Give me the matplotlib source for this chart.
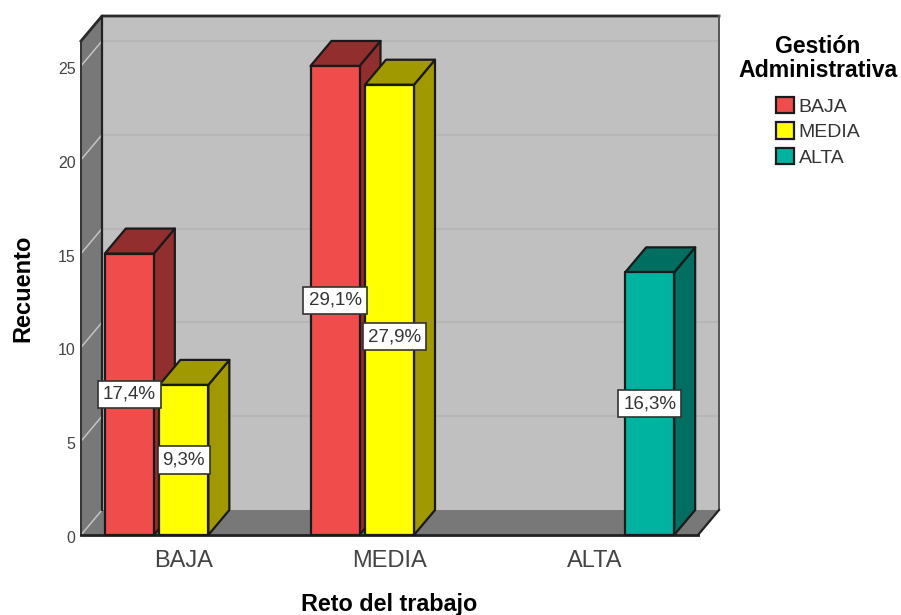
import matplotlib
matplotlib.use("Agg")
import matplotlib.pyplot as plt
from matplotlib.patches import Polygon, Patch
from matplotlib.transforms import ScaledTranslation

plt.rcParams['font.family'] = ['Liberation Sans', 'DejaVu Sans']

categories = ["BAJA", "MEDIA", "ALTA"]
hues = ["BAJA", "MEDIA", "ALTA"]

# Recuento por categoria de Reto del trabajo, una lista por nivel de gestion
counts_baja = [15, 25, 0]
counts_media = [8, 24, 0]
counts_alta = [0, 0, 14]

pct_baja = ["17,4%", "29,1%", ""]
pct_media = ["9,3%", "27,9%", ""]
pct_alta = ["", "", "16,3%"]

y_ticks = [0, 5, 10, 15, 20, 25]

front_colors = ["#f04c4c", "#ffff00", "#00b3a0"]
side_colors = ["#922e2e", "#a09a00", "#006e60"]
wall_color = "#c0c0c0"
dark_wall = "#787878"
edge = "#1a1a1a"

W, H = 901, 615
fig = plt.figure(figsize=(W / 100, H / 100), dpi=100)
ax = fig.add_axes([81 / W, (H - 535) / H, 617 / W, 494 / H])
ax.set_xlim(-0.5, 2.5)
ax.set_ylim(0, 26.33)

# desplazamiento de la profundidad en unidades de datos
dx = 21 / (617 / 3)
dy = 25 / (494 / 26.33)
x0, x1 = ax.get_xlim()
y0, y1 = ax.get_ylim()


def face(points, color, z, lw=1.6, ec=edge):
    ax.add_patch(Polygon(points, closed=True, fc=color, ec=ec, lw=lw, zorder=z,
                         clip_on=False, joinstyle='round'))


# paredes del fondo, izquierda y suelo
face([(x0 + dx, y0 + dy), (x1 + dx, y0 + dy), (x1 + dx, y1 + dy), (x0 + dx, y1 + dy)], wall_color, 1, lw=0)
face([(x0, y0), (x0 + dx, y0 + dy), (x0 + dx, y1 + dy), (x0, y1)], dark_wall, 1, lw=0)
face([(x0, y0), (x0 + dx, y0 + dy), (x1 + dx, y0 + dy), (x1, y0)], dark_wall, 1, lw=0)

for t in y_ticks[1:]:
    ax.plot([x0 + dx, x1 + dx], [t + dy, t + dy], color="#b6b6b6", lw=1.5, zorder=2, clip_on=False)
for t in y_ticks:
    ax.plot([x0, x0 + dx], [t, t + dy], color="#c4c4c4", lw=1.1, zorder=2, clip_on=False)

ax.plot([x0, x0 + dx, x1 + dx], [y1, y1 + dy, y1 + dy], color="#2a2a2a", lw=2, zorder=2, clip_on=False)
ax.plot([x0, x0], [y0, y1], color="#333333", lw=1.4, zorder=2, clip_on=False)
ax.plot([x0 + dx, x0 + dx], [y0 + dy, y1 + dy], color="#222222", lw=1.6, zorder=2, clip_on=False)
ax.plot([x1 + dx, x1 + dx], [y0 + dy, y1 + dy], color="#555555", lw=1.4, zorder=2, clip_on=False)
ax.plot([x1, x1 + dx], [y0, y0 + dy], color="#222222", lw=1.6, zorder=2, clip_on=False)
ax.plot([x0, x1], [y0, y0], color="#222222", lw=2, zorder=2, clip_on=False)

slot = 54.5 / (617 / 3)
bar_w = 49 / (617 / 3)

series = [counts_baja, counts_media, counts_alta]
labels = [pct_baja, pct_media, pct_alta]

z = 3
for c in range(len(categories)):
    for h, values in enumerate(series):
        v = values[c]
        if v == 0:
            continue
        xc = c + (h - 1) * slot
        l, r = xc - bar_w / 2, xc + bar_w / 2
        face([(r, 0), (r + dx, dy), (r + dx, v + dy), (r, v)], side_colors[h], z)
        face([(l, v), (l + dx, v + dy), (r + dx, v + dy), (r, v)], side_colors[h], z)
        face([(l, 0), (r, 0), (r, v), (l, v)], front_colors[h], z)
        z += 1

# etiquetas de porcentaje; la de 27,9% se aparta para no pisar la de 29,1%
for c in range(len(categories)):
    for h, values in enumerate(series):
        if values[c] == 0:
            continue
        xc = c + (h - 1) * slot
        yc = values[c] / 2
        if labels[h][c] == "27,9%":
            xc += 5 / (617 / 3)
            yc -= 27 / (494 / 26.33)
        ax.text(xc, yc, labels[h][c], ha='center', va='center', fontsize=13.5, color="#333333", zorder=50,
                bbox=dict(boxstyle='square,pad=0.27', fc='white', ec='#333333', lw=1.2))

ax.set_xticks(range(len(categories)))
ax.set_xticklabels(categories, fontsize=17, color="#444444")
ax.set_yticks(y_ticks)
ax.set_yticklabels([str(t) for t in y_ticks], fontsize=11.5, color="#444444")
ax.tick_params(axis='both', length=0)
ax.tick_params(axis='x', pad=11)
ax.tick_params(axis='y', pad=4)
for lab in ax.get_yticklabels():
    lab.set_transform(lab.get_transform() + ScaledTranslation(0, -2 / 100, fig.dpi_scale_trans))
for s in ax.spines.values():
    s.set_visible(False)
ax.patch.set_visible(False)

fig.text(389 / W, 1 - 604 / H, "Reto del trabajo", ha='center', va='center', fontsize=16.8, fontweight='bold')
fig.text(23 / W, 1 - 288 / H, "Recuento", ha='center', va='center', rotation=90, fontsize=17, fontweight='bold')

handles = [Patch(fc=front_colors[i], ec=edge, lw=1.6, label=hues[i]) for i in range(3)]
leg = fig.legend(handles=handles, title="Gestión\nAdministrativa", loc='upper center',
                 bbox_to_anchor=(818 / W, 1 - 31 / H), frameon=False, fontsize=14,
                 title_fontproperties=dict(weight='bold', size=16.6), labelcolor="#333333",
                 handlelength=0.92, handleheight=0.92, handletextpad=0.25, labelspacing=0.33,
                 borderpad=0.2, borderaxespad=0)
leg.get_title().set_multialignment('center')
leg.get_title().set_linespacing(1.05)
leg._legend_box.sep = 11

fig.savefig("out.png", dpi=100)
